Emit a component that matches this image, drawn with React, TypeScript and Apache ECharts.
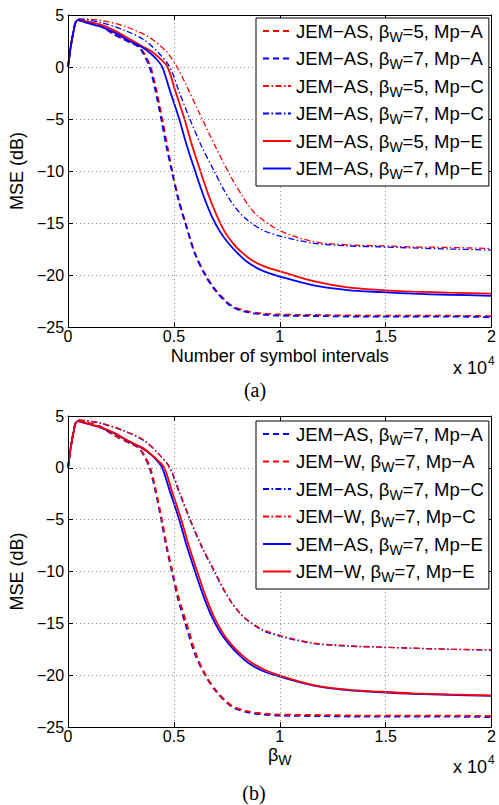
import { useEffect, useRef } from "react";
import * as echarts from "echarts";

const FONT = "'Liberation Sans', Arial, Helvetica, sans-serif";
const SERIF = "'Liberation Serif', 'Times New Roman', serif";

// x ticks (symbol intervals) and y ticks (dB)
const X_MIN = 0;
const X_MAX = 20000;
const X_STEP = 5000;
const Y_MIN = -25;
const Y_MAX = 5;
const Y_STEP = 5;

// ---- JEM-AS, beta_W = 5 / 7 (panel a, and beta 7 reused in panel b) ----
const xAS5A = [0, 200, 450, 800, 1500, 2200, 2900, 3300, 3600, 3900, 4150, 4450, 4700, 4920, 5200, 5550, 6000, 6500, 7000, 7700, 8400, 9200, 10000, 12000, 14000, 16000, 18000, 20000];
const yAS5A = [0, 2.8, 4.5, 4.4, 4.0, 3.1, 2.4, 2.0, 1.3, 0.0, -2.0, -5.0, -7.7, -10.0, -12.5, -15.0, -17.9, -20.0, -21.5, -22.9, -23.45, -23.7, -23.8, -23.85, -23.9, -23.9, -23.92, -23.95];

const xAS7A = [0, 200, 450, 800, 1500, 2200, 2900, 3300, 3550, 3850, 4100, 4400, 4650, 4900, 5200, 5550, 6000, 6500, 7000, 7700, 8400, 9200, 10000, 12000, 14000, 16000, 18000, 20000];
const yAS7A = [0, 2.8, 4.6, 4.4, 4.0, 3.1, 2.4, 2.0, 1.3, 0.0, -2.0, -5.0, -7.7, -10.0, -12.7, -15.1, -18.0, -20.1, -21.6, -23.0, -23.55, -23.8, -23.9, -23.95, -24.0, -24.0, -24.0, -24.05];

const xAS5C = [0, 200, 500, 1500, 2700, 3800, 4600, 4900, 5150, 5550, 6170, 6950, 7700, 8200, 8520, 9000, 10080, 11600, 13200, 14800, 16300, 18000, 20000];
const yAS5C = [0, 2.9, 4.6, 4.5, 3.9, 2.9, 1.6, 0.8, 0.0, -1.6, -4.3, -7.6, -10.6, -12.3, -13.3, -14.4, -15.8, -16.8, -17.1, -17.2, -17.3, -17.35, -17.45];

const xAS7C = [0, 200, 500, 1500, 2700, 3600, 4300, 4800, 5250, 5750, 6300, 6900, 7300, 7720, 8100, 8520, 9200, 10080, 11600, 13200, 14800, 16300, 18000, 20000];
const yAS7C = [0, 2.9, 4.6, 4.3, 3.5, 2.6, 1.3, 0.0, -2.4, -5.0, -7.6, -10.0, -11.6, -13.0, -14.0, -14.8, -15.7, -16.3, -16.95, -17.2, -17.3, -17.4, -17.5, -17.6];

const xAS5E = [0, 200, 450, 800, 1500, 2200, 2900, 3500, 3950, 4350, 4700, 5050, 5500, 5850, 6250, 6650, 7050, 7450, 7850, 8250, 8700, 9300, 10100, 11600, 13200, 14800, 16300, 18000, 20000];
const yAS5E = [0, 2.8, 4.5, 4.4, 4.1, 3.5, 2.7, 2.0, 1.5, 0.8, 0.0, -2.2, -5.0, -7.5, -10.0, -12.4, -14.4, -16.0, -17.1, -17.9, -18.6, -19.2, -19.7, -20.6, -21.2, -21.45, -21.6, -21.7, -21.8];

const xAS7E = [0, 200, 450, 800, 1500, 2200, 2900, 3500, 3900, 4200, 4450, 4800, 5250, 5600, 6000, 6400, 6800, 7200, 7600, 8000, 8500, 9200, 10100, 11600, 13200, 14800, 16300, 18000, 20000];
const yAS7E = [0, 2.8, 4.5, 4.3, 3.9, 3.3, 2.5, 1.9, 1.3, 0.7, 0.0, -2.2, -5.0, -7.5, -10.0, -12.4, -14.4, -15.9, -17.0, -17.9, -18.8, -19.6, -20.2, -21.0, -21.45, -21.65, -21.8, -21.9, -22.0];

// ---- JEM-W, beta_W = 7 (panel b) ----
const xW7A = [0, 200, 450, 800, 1500, 2200, 2900, 3300, 3580, 3880, 4130, 4430, 4680, 4930, 5250, 5600, 6050, 6500, 7000, 7700, 8400, 9200, 10000, 12000, 14000, 16000, 18000, 20000];
const yW7A = [0, 2.8, 4.6, 4.4, 4.0, 3.1, 2.4, 2.0, 1.3, 0.0, -2.0, -5.0, -7.7, -10.0, -12.7, -15.0, -18.0, -20.0, -21.5, -22.9, -23.45, -23.7, -23.8, -23.85, -23.9, -23.9, -23.9, -23.95];

const xW7C = [0, 200, 500, 1500, 2700, 3600, 4300, 4820, 5280, 5780, 6330, 6930, 7330, 7740, 8120, 8520, 9200, 10080, 11600, 13200, 14800, 16300, 18000, 20000];
const yW7C = [0, 2.9, 4.6, 4.35, 3.55, 2.65, 1.3, 0.0, -2.4, -5.0, -7.6, -10.0, -11.6, -13.0, -14.0, -14.75, -15.6, -16.2, -16.9, -17.15, -17.3, -17.4, -17.5, -17.55];

const xW7E = [0, 200, 450, 800, 1500, 2200, 2900, 3500, 3900, 4250, 4550, 4900, 5350, 5700, 6100, 6500, 6900, 7300, 7700, 8100, 8600, 9300, 10100, 11600, 13200, 14800, 16300, 18000, 20000];
const yW7E = [0, 2.8, 4.5, 4.35, 3.95, 3.35, 2.55, 1.95, 1.35, 0.7, 0.0, -2.2, -5.0, -7.5, -10.0, -12.4, -14.4, -15.9, -17.0, -17.85, -18.7, -19.5, -20.1, -20.95, -21.4, -21.6, -21.75, -21.85, -21.95];

const NAME_AS5A = "JEM−AS, βW=5, Mp−A";
const NAME_AS7A = "JEM−AS, βW=7, Mp−A";
const NAME_AS5C = "JEM−AS, βW=5, Mp−C";
const NAME_AS7C = "JEM−AS, βW=7, Mp−C";
const NAME_AS5E = "JEM−AS, βW=5, Mp−E";
const NAME_AS7E = "JEM−AS, βW=7, Mp−E";
const NAME_W7A = "JEM−W, βW=7, Mp−A";
const NAME_W7C = "JEM−W, βW=7, Mp−C";
const NAME_W7E = "JEM−W, βW=7, Mp−E";

const RED = "#ff0000";
const BLUE = "#0000ff";
const DASH = [6, 4];
const DASHDOT = [6, 2.5, 1.5, 2.5];

type Spec = { name: string; xs: number[]; ys: number[]; color: string; kind: "dash" | "dashdot" | "solid" };

const TOP_SERIES: Spec[] = [
  { name: NAME_AS5A, xs: xAS5A, ys: yAS5A, color: RED, kind: "dash" },
  { name: NAME_AS7A, xs: xAS7A, ys: yAS7A, color: BLUE, kind: "dash" },
  { name: NAME_AS5C, xs: xAS5C, ys: yAS5C, color: RED, kind: "dashdot" },
  { name: NAME_AS7C, xs: xAS7C, ys: yAS7C, color: BLUE, kind: "dashdot" },
  { name: NAME_AS5E, xs: xAS5E, ys: yAS5E, color: RED, kind: "solid" },
  { name: NAME_AS7E, xs: xAS7E, ys: yAS7E, color: BLUE, kind: "solid" },
];

const BOTTOM_SERIES: Spec[] = [
  { name: NAME_AS7A, xs: xAS7A, ys: yAS7A, color: BLUE, kind: "dash" },
  { name: NAME_W7A, xs: xW7A, ys: yW7A, color: RED, kind: "dash" },
  { name: NAME_AS7C, xs: xAS7C, ys: yAS7C, color: BLUE, kind: "dashdot" },
  { name: NAME_W7C, xs: xW7C, ys: yW7C, color: RED, kind: "dashdot" },
  { name: NAME_AS7E, xs: xAS7E, ys: yAS7E, color: BLUE, kind: "solid" },
  { name: NAME_W7E, xs: xW7E, ys: yW7E, color: RED, kind: "solid" },
];

const GRIDS = [
  { left: 68, top: 15, width: 427, height: 312 },
  { left: 68, top: 416, width: 427, height: 311 },
];

function pts(xs: number[], ys: number[]) {
  return xs.map((x, i) => [x, ys[i]]);
}

function minusFmt(v: number) {
  return v < 0 ? "−" + Math.abs(v) : String(v);
}

const subRich = {
  sub: { fontSize: 14, fontFamily: FONT, color: "#000", padding: [11, 0, 0, 0] },
};

function makeSeries(list: Spec[], axisIndex: number) {
  return list.map((s) => ({
    type: "line",
    name: s.name,
    xAxisIndex: axisIndex,
    yAxisIndex: axisIndex,
    data: pts(s.xs, s.ys),
    showSymbol: false,
    symbol: "none",
    smooth: 0.3,
    lineStyle: {
      color: s.color,
      width: s.kind === "dashdot" ? 1.3 : 1.8,
      type: s.kind === "dash" ? DASH : s.kind === "dashdot" ? DASHDOT : "solid",
    },
    itemStyle: { color: s.color },
    z: 3,
  }));
}

function makeXAxes(gridIndex: number, name: string, nameGap: number) {
  return [
    {
      gridIndex,
      type: "value",
      min: X_MIN,
      max: X_MAX,
      interval: X_STEP,
      position: "bottom",
      axisLine: { show: true, onZero: false, lineStyle: { color: "#000", width: 1 } },
      axisTick: { show: true, inside: true, length: 5, lineStyle: { color: "#000" } },
      axisLabel: {
        fontSize: 16,
        color: "#000",
        fontFamily: FONT,
        margin: 1,
        formatter: (v: number) => String(v / 10000),
      },
      splitLine: { show: true, lineStyle: { color: "#8c8c8c", type: [1, 3], width: 1 } },
      name,
      nameLocation: "middle",
      nameGap,
      nameTextStyle: { fontSize: 18, fontFamily: FONT, color: "#000", lineHeight: 20, rich: subRich },
      z: 5,
    },
    {
      gridIndex,
      type: "value",
      min: X_MIN,
      max: X_MAX,
      interval: X_STEP,
      position: "top",
      axisLine: { show: true, onZero: false, lineStyle: { color: "#000", width: 1 } },
      axisTick: { show: true, inside: true, length: 5, lineStyle: { color: "#000" } },
      axisLabel: { show: false },
      splitLine: { show: false },
      z: 5,
    },
  ];
}

function makeYAxes(gridIndex: number) {
  return [
    {
      gridIndex,
      type: "value",
      min: Y_MIN,
      max: Y_MAX,
      interval: Y_STEP,
      position: "left",
      axisLine: { show: true, onZero: false, lineStyle: { color: "#000", width: 1 } },
      axisTick: { show: true, inside: true, length: 5, lineStyle: { color: "#000" } },
      axisLabel: { fontSize: 16, color: "#000", fontFamily: FONT, margin: 4, formatter: minusFmt },
      splitLine: { show: true, lineStyle: { color: "#8c8c8c", type: [1, 3], width: 1 } },
      name: "MSE (dB)",
      nameLocation: "middle",
      nameGap: 40,
      nameTextStyle: { fontSize: 18, fontFamily: FONT, color: "#000" },
      z: 5,
    },
    {
      gridIndex,
      type: "value",
      min: Y_MIN,
      max: Y_MAX,
      interval: Y_STEP,
      position: "right",
      axisLine: { show: true, onZero: false, lineStyle: { color: "#000", width: 1 } },
      axisTick: { show: true, inside: true, length: 5, lineStyle: { color: "#000" } },
      axisLabel: { show: false },
      splitLine: { show: false },
      z: 5,
    },
  ];
}

function makeLegend(list: Spec[], left: number, top: number) {
  return {
    orient: "vertical",
    left,
    top,
    data: list.map((s) => s.name),
    selectedMode: false,
    backgroundColor: "#fff",
    borderColor: "#000",
    borderWidth: 1,
    borderRadius: 0,
    padding: [3, 5, 5, 6],
    itemGap: 5,
    itemWidth: 28,
    itemHeight: 14,
    itemStyle: { color: "rgba(0,0,0,0)", borderWidth: 0, opacity: 0 },
    textStyle: { fontSize: 18.5, fontFamily: FONT, color: "#000", lineHeight: 20, rich: subRich },
    formatter: (name: string) => name.replace("βW", "β{sub|W}"),
    z: 10,
  };
}

export default function App() {
  const ref = useRef<HTMLDivElement>(null);

  useEffect(() => {
    if (!ref.current) return;
    const chart = echarts.init(ref.current, null, { renderer: "svg" });

    const option: any = {
      animation: false,
      backgroundColor: "#fff",
      grid: GRIDS.map((g) => ({ ...g, containLabel: false })),
      xAxis: [
        ...makeXAxes(0, "Number of symbol intervals", 19),
        ...makeXAxes(1, "β{sub|W}", 17),
      ],
      yAxis: [...makeYAxes(0), ...makeYAxes(1)],
      legend: [makeLegend(TOP_SERIES, 256, 18), makeLegend(BOTTOM_SERIES, 256, 421)],
      series: [...makeSeries(TOP_SERIES, 0), ...makeSeries(BOTTOM_SERIES, 2)],
      graphic: [
        {
          type: "text",
          x: 487,
          y: 368,
          style: { text: "x 10", fontSize: 18, fontFamily: FONT, fill: "#000", align: "right", verticalAlign: "middle" },
        },
        {
          type: "text",
          x: 488,
          y: 361,
          style: { text: "4", fontSize: 12, fontFamily: FONT, fill: "#000", align: "left", verticalAlign: "middle" },
        },
        {
          type: "text",
          x: 487,
          y: 767,
          style: { text: "x 10", fontSize: 18, fontFamily: FONT, fill: "#000", align: "right", verticalAlign: "middle" },
        },
        {
          type: "text",
          x: 488,
          y: 760,
          style: { text: "4", fontSize: 12, fontFamily: FONT, fill: "#000", align: "left", verticalAlign: "middle" },
        },
        {
          type: "text",
          x: 255,
          y: 390,
          style: { text: "(a)", fontSize: 20, fontFamily: SERIF, fill: "#000", align: "center", verticalAlign: "middle" },
        },
        {
          type: "text",
          x: 254,
          y: 793,
          style: { text: "(b)", fontSize: 20, fontFamily: SERIF, fill: "#000", align: "center", verticalAlign: "middle" },
        },
      ],
    };

    chart.setOption(option);
    return () => chart.dispose();
  }, []);

  return (
    <div
      ref={ref}
      style={{ position: "fixed", left: 0, top: 0, width: 499, height: 805, background: "#fff" }}
    />
  );
}
